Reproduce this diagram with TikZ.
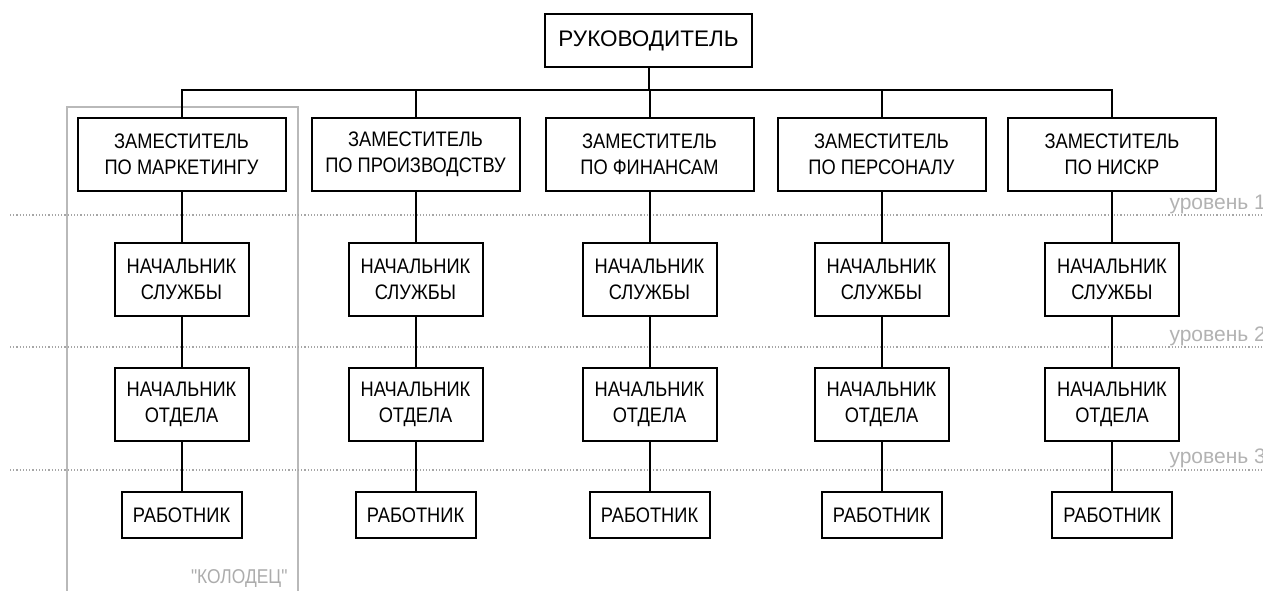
\documentclass[tikz,border=0pt]{standalone}
\usepackage{fontspec}
\setmainfont{Liberation Sans}
\newfontfamily\narrowfont[FakeStretch=0.87]{Liberation Sans}
\usetikzlibrary{calc}

\begin{document}
\begin{tikzpicture}[x=1pt,y=-1pt,
    box/.style={draw,line width=2pt,fill=white,align=center,inner sep=0pt,
      font=\narrowfont\fontsize{21}{26}\selectfont},
    dep/.style={box,minimum width=208pt,minimum height=73pt},
    chief/.style={box,minimum width=134pt,minimum height=73pt},
    wrk/.style={box,minimum width=120pt,minimum height=46pt},
    link/.style={line width=2pt},
    lvl/.style={gray!70,dotted,line width=1.2pt},
    lvltext/.style={gray!60,anchor=base west,font=\fontsize{21}{21}\selectfont}]
    \useasboundingbox (0,0) rectangle (1263,590);
    % the "well"
    \draw[gray!55,line width=1.6pt] (67,107) rectangle (298,640);
    \node[gray!65,anchor=base east,font=\narrowfont\fontsize{20}{20}\selectfont] (well) at (291,583) {"КОЛОДЕЦ"};
    % levels
    \draw[lvl] (10,215) -- (1263,215);
    \draw[lvl] (10,347) -- (1263,347);
    \draw[lvl] (10,470) -- (1263,470);
    \node[lvltext] (L1) at (1166,209) {уровень 1};
    \node[lvltext] (L2) at (1166,341) {уровень 2};
    \node[lvltext] (L3) at (1166,463) {уровень 3};
    % head
    \node[box,minimum width=207pt,minimum height=53pt,font=\fontsize{22.5}{26}\selectfont] (R) at (648.5,40.5) {РУКОВОДИТЕЛЬ};
    \coordinate (bus) at (648.5,90);
    % deputies
    \node[dep] (Z1) at (181.5,154.5) {ЗАМЕСТИТЕЛЬ\\ПО МАРКЕТИНГУ};
    \node[dep] (Z2) at (415.5,154.5) {ЗАМЕСТИТЕЛЬ\\ПО ПРОИЗВОДСТВУ};
    \node[dep] (Z3) at (649.5,154.5) {ЗАМЕСТИТЕЛЬ\\ПО ФИНАНСАМ};
    \node[dep] (Z4) at (881.5,154.5) {ЗАМЕСТИТЕЛЬ\\ПО ПЕРСОНАЛУ};
    \node[dep] (Z5) at (1112,154.5) {ЗАМЕСТИТЕЛЬ\\ПО НИСКР};
    % heads of services
    \node[chief] (S1) at (181.5,279.5) {НАЧАЛЬНИК\\СЛУЖБЫ};
    \node[chief] (S2) at (415.5,279.5) {НАЧАЛЬНИК\\СЛУЖБЫ};
    \node[chief] (S3) at (649.5,279.5) {НАЧАЛЬНИК\\СЛУЖБЫ};
    \node[chief] (S4) at (881.5,279.5) {НАЧАЛЬНИК\\СЛУЖБЫ};
    \node[chief] (S5) at (1112,279.5) {НАЧАЛЬНИК\\СЛУЖБЫ};
    % heads of departments
    \node[chief] (O1) at (181.5,404) {НАЧАЛЬНИК\\ОТДЕЛА};
    \node[chief] (O2) at (415.5,404) {НАЧАЛЬНИК\\ОТДЕЛА};
    \node[chief] (O3) at (649.5,404) {НАЧАЛЬНИК\\ОТДЕЛА};
    \node[chief] (O4) at (881.5,404) {НАЧАЛЬНИК\\ОТДЕЛА};
    \node[chief] (O5) at (1112,404) {НАЧАЛЬНИК\\ОТДЕЛА};
    % workers
    \node[wrk] (W1) at (181.5,515) {РАБОТНИК};
    \node[wrk] (W2) at (415.5,515) {РАБОТНИК};
    \node[wrk] (W3) at (649.5,515) {РАБОТНИК};
    \node[wrk] (W4) at (881.5,515) {РАБОТНИК};
    \node[wrk] (W5) at (1112,515) {РАБОТНИК};
    % lines
    \draw[link] (R) -- (bus);
    \draw[link] (Z1.north) |- (bus) -| (Z5.north);
    \draw[link] (Z2) -- (Z2 |- bus);
    \draw[link] (Z3) -- (Z3 |- bus);
    \draw[link] (Z4) -- (Z4 |- bus);
    \draw[link] (Z1) -- (S1) -- (O1) -- (W1);
    \draw[link] (Z2) -- (S2) -- (O2) -- (W2);
    \draw[link] (Z3) -- (S3) -- (O3) -- (W3);
    \draw[link] (Z4) -- (S4) -- (O4) -- (W4);
    \draw[link] (Z5) -- (S5) -- (O5) -- (W5);
\end{tikzpicture}
\end{document}
